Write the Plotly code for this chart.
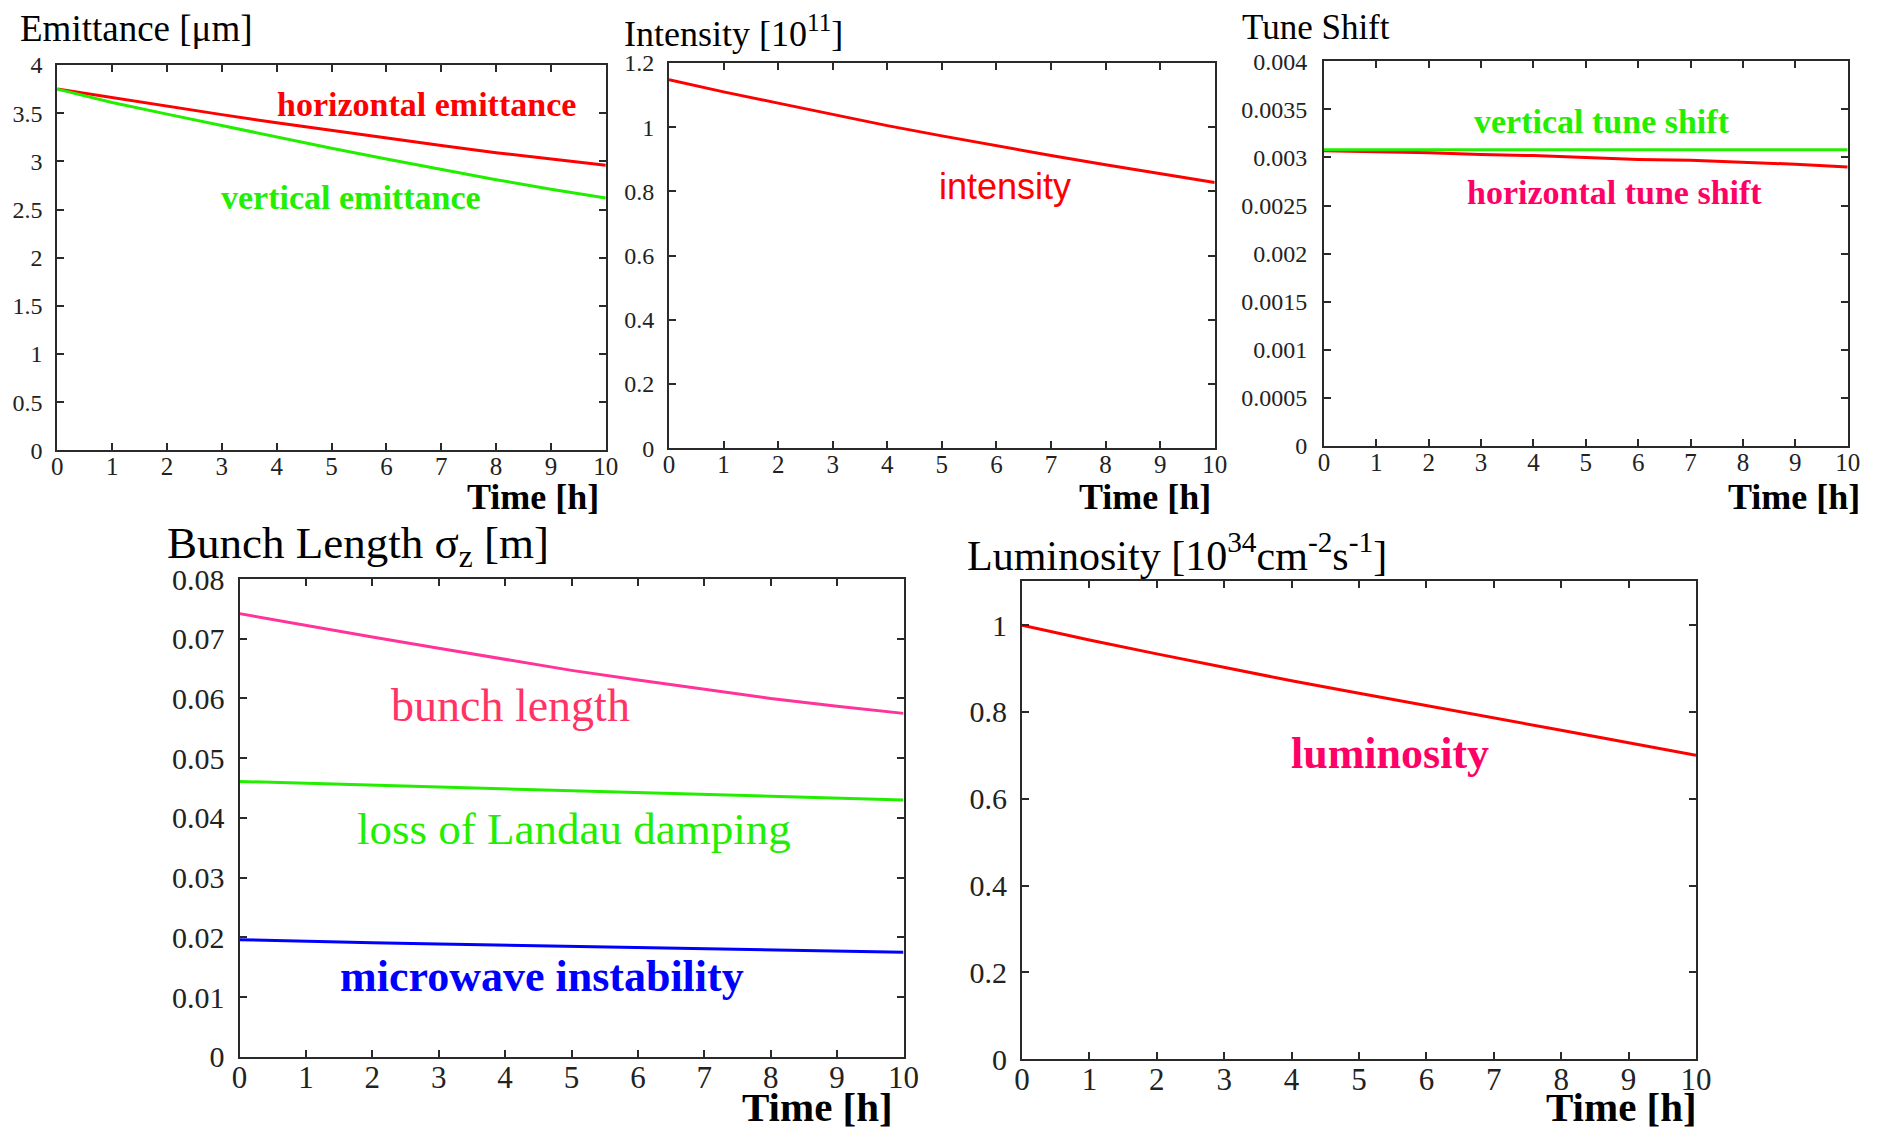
import plotly.graph_objects as go

# figure drawn inside the page's default 8px body margin so the page does not overflow
PAGE_W, PAGE_H = 1877, 1138
OFF = 8
W, H = PAGE_W - 2 * OFF, PAGE_H - 2 * OFF

# ---------------- data ----------------
time_h = [0, 1, 2, 3, 4, 5, 6, 7, 8, 9, 10]

emit_horizontal = [3.75, 3.66, 3.57, 3.485, 3.40, 3.32, 3.24, 3.165, 3.09, 3.025, 2.96]
emit_vertical = [3.75, 3.61, 3.49, 3.37, 3.25, 3.135, 3.025, 2.915, 2.81, 2.71, 2.62]

intensity = [1.148, 1.11, 1.075, 1.04, 1.005, 0.973, 0.942, 0.912, 0.883, 0.855, 0.828]

tune_vertical = [0.00308, 0.00308, 0.00308, 0.00308, 0.00308, 0.00308, 0.00308, 0.00308, 0.00308, 0.00308, 0.00308]
tune_horizontal = [0.00307, 0.00306, 0.00305, 0.00303, 0.00302, 0.00300, 0.00298, 0.00297, 0.00295, 0.00293, 0.00290]

bunch_length = [0.0742, 0.0722, 0.0703, 0.0684, 0.0665, 0.0647, 0.0631, 0.0615, 0.0600, 0.0587, 0.0575]
landau_limit = [0.0461, 0.0458, 0.0455, 0.0452, 0.0449, 0.0446, 0.0443, 0.0440, 0.0437, 0.0433, 0.0430]
microwave_limit = [0.0196, 0.0193, 0.0191, 0.0189, 0.0187, 0.0185, 0.0183, 0.0181, 0.0179, 0.0177, 0.0175]

luminosity = [1.0, 0.966, 0.934, 0.903, 0.872, 0.843, 0.815, 0.786, 0.758, 0.729, 0.700]

x_ticks = [0, 1, 2, 3, 4, 5, 6, 7, 8, 9, 10]
emit_ticks = [0, 0.5, 1, 1.5, 2, 2.5, 3, 3.5, 4]
emit_ticktext = ["0", "0.5", "1", "1.5", "2", "2.5", "3", "3.5", "4"]
int_ticks = [0, 0.2, 0.4, 0.6, 0.8, 1.0, 1.2]
int_ticktext = ["0", "0.2", "0.4", "0.6", "0.8", "1", "1.2"]
tune_ticks = [0, 0.0005, 0.001, 0.0015, 0.002, 0.0025, 0.003, 0.0035, 0.004]
tune_ticktext = ["0", "0.0005", "0.001", "0.0015", "0.002", "0.0025", "0.003", "0.0035", "0.004"]
bl_ticks = [0, 0.01, 0.02, 0.03, 0.04, 0.05, 0.06, 0.07, 0.08]
bl_ticktext = ["0", "0.01", "0.02", "0.03", "0.04", "0.05", "0.06", "0.07", "0.08"]
lum_ticks = [0, 0.2, 0.4, 0.6, 0.8, 1.0]
lum_ticktext = ["0", "0.2", "0.4", "0.6", "0.8", "1"]

# ---------------- style ----------------
SERIF = "Liberation Serif, Times New Roman, serif"
SANS = "Liberation Sans, Arial, sans-serif"
RED = "#ff0000"
GREEN = "#22ee00"
BLUE = "#0000ff"
PINK_LINE = "#ff3399"
PINK_TEXT = "#ff3366"
ROSE = "#ff0066"
AX = "#2a2a2a"


def px(x):
    return (x - OFF) / W


def py(y):
    return 1 - (y - OFF) / H


fig = go.Figure()


def add(xa, ya, y, color, width=3):
    fig.add_trace(go.Scatter(x=time_h, y=y, mode="lines", xaxis=xa, yaxis=ya,
                             line=dict(color=color, width=width), showlegend=False,
                             hoverinfo="skip"))


add("x", "y", emit_horizontal, RED)
add("x", "y", emit_vertical, GREEN)
add("x2", "y2", intensity, RED)
add("x3", "y3", tune_horizontal, RED)
add("x3", "y3", tune_vertical, GREEN)
add("x4", "y4", bunch_length, PINK_LINE)
add("x4", "y4", landau_limit, GREEN)
add("x4", "y4", microwave_limit, BLUE)
add("x5", "y5", luminosity, RED)

panels = [
    dict(box=(57.3, 605.8, 65, 450.4), yr=[0, 4], tv=emit_ticks, tt=emit_ticktext, xfs=25, yfs=24, ystand=8, xstand=-7),
    dict(box=(669, 1214.7, 63, 448.3), yr=[0, 1.2], tv=int_ticks, tt=int_ticktext, xfs=25, yfs=24, ystand=8, xstand=-7),
    dict(box=(1324, 1847.7, 61.3, 446), yr=[0, 0.004], tv=tune_ticks, tt=tune_ticktext, xfs=25, yfs=24, ystand=10, xstand=-7),
    dict(box=(239.5, 903.5, 579, 1056.8), yr=[0, 0.08], tv=bl_ticks, tt=bl_ticktext, xfs=31, yfs=30, ystand=7, xstand=-8),
    dict(box=(1022, 1696, 581, 1059), yr=[0, 1.102], tv=lum_ticks, tt=lum_ticktext, xfs=31, yfs=30, ystand=7, xstand=-8),
]

layout = dict(
    width=W, height=H, margin=dict(l=0, r=0, t=0, b=0, autoexpand=False),
    paper_bgcolor="white", plot_bgcolor="white", showlegend=False,
)

for i, p in enumerate(panels, start=1):
    x0, x1, y0, y1 = p["box"]
    sfx = "" if i == 1 else str(i)
    common = dict(showline=True, linecolor=AX, linewidth=2, mirror="allticks",
                  ticks="inside", ticklen=7, tickwidth=2, tickcolor=AX,
                  showgrid=False, zeroline=False)
    layout["xaxis" + sfx] = dict(domain=[px(x0), px(x1)], range=[0, 10], anchor="y" + sfx,
                                 tickvals=x_ticks, ticklabelstandoff=p["xstand"],
                                 tickfont=dict(family=SERIF, size=p["xfs"], color="#222"),
                                 **common)
    layout["yaxis" + sfx] = dict(domain=[py(y1), py(y0)], range=p["yr"], anchor="x" + sfx,
                                 tickvals=p["tv"], ticktext=p["tt"],
                                 ticklabelstandoff=p["ystand"],
                                 tickfont=dict(family=SERIF, size=p["yfs"], color="#222"),
                                 **common)

fig.update_layout(**layout)


def note(text, x, y, size, color="black", family=SERIF, xanchor="center", bold=False):
    if bold:
        text = "<b>" + text + "</b>"
    fig.add_annotation(text=text, xref="paper", yref="paper", x=px(x), y=py(y),
                       xanchor=xanchor, yanchor="middle", showarrow=False,
                       font=dict(family=family, size=size, color=color))


# panel titles
note("Emittance [μm]", 18, 29, 37, xanchor="left")
note("Intensity [10<sup>11</sup>]", 622, 32, 36, xanchor="left")
note("Tune Shift", 1240, 28, 35, xanchor="left")
note("Bunch Length σ<sub>z</sub> [m]", 165, 546, 45, xanchor="left")
note("Luminosity [10<sup>34</sup>cm<sup>-2</sup>s<sup>-1</sup>]", 965, 552, 42, xanchor="left")

# x-axis titles
note("Time [h]", 601, 497, 36, xanchor="right", bold=True)
note("Time [h]", 1213, 497, 36, xanchor="right", bold=True)
note("Time [h]", 1862, 497, 36, xanchor="right", bold=True)
note("Time [h]", 895, 1107, 41, xanchor="right", bold=True)
note("Time [h]", 1699, 1107, 41, xanchor="right", bold=True)

# curve labels
note("horizontal emittance", 426, 104, 34, RED, bold=True)
note("vertical emittance", 351, 198, 34, GREEN, bold=True)
note("intensity", 1005, 186, 36, RED, family=SANS)
note("vertical tune shift", 1602, 122, 34, GREEN, bold=True)
note("horizontal tune shift", 1614, 192, 34, ROSE, bold=True)
note("bunch length", 510, 705, 46, PINK_TEXT)
note("loss of Landau damping", 574, 829, 45, GREEN)
note("microwave instability", 542, 976, 44, BLUE, bold=True)
note("luminosity", 1390, 753, 44, ROSE, bold=True)

fig.write_html("out.html")
